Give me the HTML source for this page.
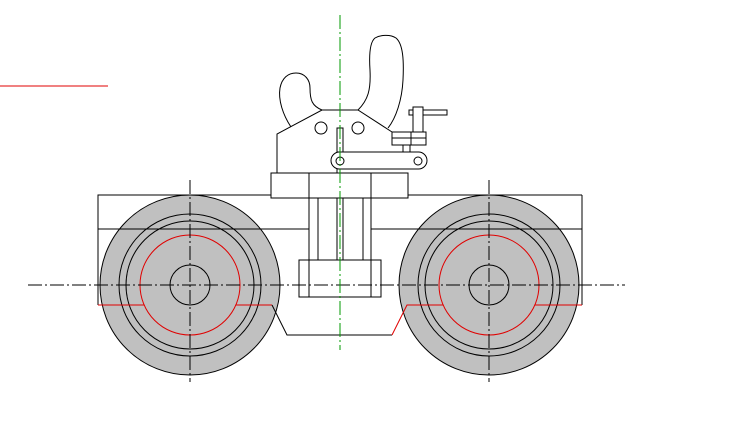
<!DOCTYPE html>
<html><head><style>html,body{margin:0;padding:0;background:#fff}svg{display:block}</style></head>
<body>
<svg width="738" height="436" viewBox="0 0 738 436" xmlns="http://www.w3.org/2000/svg" fill="none" stroke="#000" stroke-width="1">
<line x1="0" y1="86" x2="108" y2="86" stroke="#e00000"/>
<!-- wheels -->
<g>
<circle cx="190" cy="285" r="90" fill="#c0c0c0"/>
<circle cx="190" cy="285" r="71"/>
<circle cx="190" cy="285" r="64"/>
<circle cx="190" cy="285" r="50" stroke="#e00000"/>
<circle cx="190" cy="285" r="20"/>
<circle cx="489" cy="285" r="90" fill="#c0c0c0"/>
<circle cx="489" cy="285" r="71"/>
<circle cx="489" cy="285" r="64"/>
<circle cx="489" cy="285" r="50" stroke="#e00000"/>
<circle cx="489" cy="285" r="20"/>
</g>
<!-- frame -->
<polyline points="98,305 98,195 271,195"/>
<line x1="408" y1="195" x2="582" y2="195"/>
<polyline points="582,195 582,305"/>
<line x1="98" y1="229" x2="309" y2="229"/>
<line x1="371" y1="229" x2="582" y2="229"/>
<polyline points="98,305 144,305" stroke="#e00000"/>
<polyline points="236,305 272,305" stroke="#e00000"/>
<polyline points="272,305 287,335 392,335"/>
<polyline points="392,335 407,305 443,305" stroke="#e00000"/>
<polyline points="535,305 582,305" stroke="#e00000"/>
<!-- column -->
<rect x="271" y="173" width="137" height="25" fill="#fff"/>
<line x1="309" y1="173" x2="309" y2="260"/>
<line x1="371" y1="173" x2="371" y2="260"/>
<line x1="318" y1="198" x2="318" y2="260"/>
<line x1="363" y1="198" x2="363" y2="260"/>
<line x1="337" y1="198" x2="337" y2="260"/>
<line x1="343" y1="198" x2="343" y2="260"/>
<rect x="299" y="260" width="82" height="37" fill="#fff"/>
<line x1="309" y1="260" x2="309" y2="297"/>
<line x1="371" y1="260" x2="371" y2="297"/>
<!-- upper body -->
<polyline points="277,173 277,134 322,110 358,110 392,132"/>
<path d="M291,127 C283,115 278,100 280,88 C282,78 288,73 296,73 C305,73 310,80 310,88 C310,100 312,106 322,110"/>
<path d="M358,110 C368,100 371,90 370,70 C369,55 370,42 375,38 C380,35 390,34 396,38 C403,44 404,60 403,80 C402,100 396,118 388,128"/>
<circle cx="321" cy="128" r="6"/>
<circle cx="358" cy="128" r="6"/>
<rect x="337" y="128" width="6" height="24"/>
<rect x="331" y="152" width="96" height="17" rx="8.5" fill="#fff"/>
<circle cx="340" cy="161" r="4"/>
<circle cx="418" cy="161" r="4"/>
<line x1="337" y1="169" x2="337" y2="173"/>
<line x1="403" y1="145" x2="403" y2="152"/>
<line x1="410" y1="145" x2="410" y2="152"/>
<rect x="392" y="132" width="34" height="13" fill="#fff"/>
<line x1="392" y1="138" x2="426" y2="138"/>
<line x1="411" y1="132" x2="411" y2="145"/>
<polyline points="413,132 413,107 423,107 423,132"/>
<rect x="423" y="110" width="24" height="5"/>
<rect x="409" y="110" width="4" height="5"/>
<!-- centerlines -->
<g stroke-dasharray="14,3,2,3">
<line x1="28" y1="285" x2="625" y2="285"/>
<line x1="190" y1="180" x2="190" y2="382"/>
<line x1="489" y1="180" x2="489" y2="382"/>
<line x1="340" y1="15" x2="340" y2="350" stroke="#009900"/>
</g>
</svg>
</body></html>
